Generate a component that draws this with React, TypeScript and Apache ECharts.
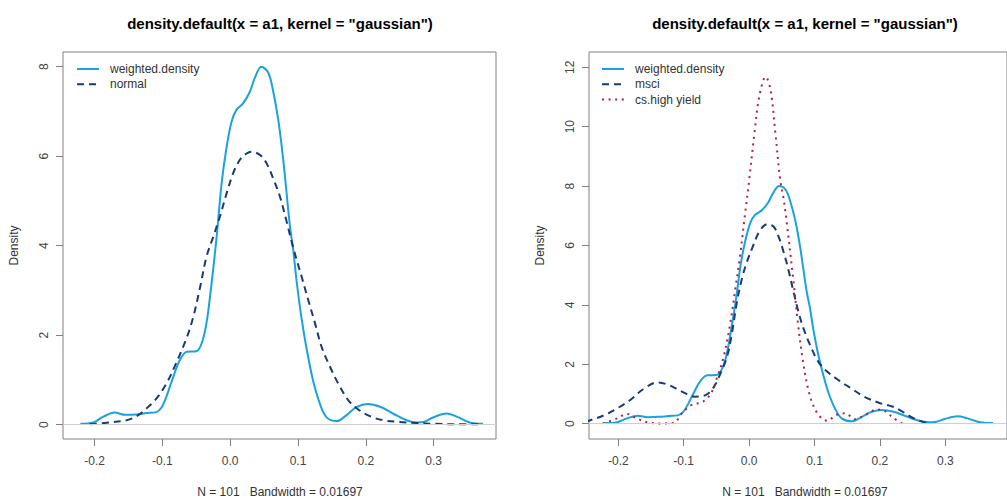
import { useRef, useEffect } from "react";
import * as echarts from "echarts";

// values (x = return, y = density)
const weightedDensity = [
  [-0.221, 0.02], [-0.202, 0.05], [-0.187, 0.18], [-0.17, 0.27], [-0.155, 0.22],
  [-0.138, 0.23], [-0.123, 0.26], [-0.109, 0.28], [-0.101, 0.39], [-0.094, 0.63],
  [-0.084, 1.07], [-0.074, 1.45], [-0.064, 1.63], [-0.05, 1.64], [-0.042, 1.82],
  [-0.035, 2.27], [-0.0275, 3.16], [-0.02, 4.2], [-0.0127, 5.39], [-0.0053, 6.21],
  [0.002, 6.77], [0.009, 7.03], [0.019, 7.18], [0.029, 7.44], [0.036, 7.74],
  [0.046, 8.0], [0.056, 7.87], [0.063, 7.48], [0.071, 6.8], [0.078, 5.95],
  [0.083, 5.2], [0.088, 4.45], [0.093, 3.9], [0.098, 3.2], [0.105, 2.4],
  [0.113, 1.67], [0.122, 1.0], [0.132, 0.48], [0.142, 0.17], [0.157, 0.08],
  [0.172, 0.22], [0.186, 0.39], [0.203, 0.46], [0.221, 0.4], [0.24, 0.25],
  [0.26, 0.1], [0.275, 0.05], [0.285, 0.06], [0.299, 0.16], [0.319, 0.25],
  [0.334, 0.18], [0.353, 0.05], [0.373, 0.02],
];

const normalDensity = [
  [-0.207, 0.01], [-0.177, 0.05], [-0.153, 0.1], [-0.138, 0.19], [-0.123, 0.37],
  [-0.1086, 0.59], [-0.094, 0.92], [-0.079, 1.4], [-0.064, 1.95], [-0.0546, 2.4],
  [-0.0447, 3.05], [-0.035, 3.75], [-0.025, 4.2], [-0.0152, 4.65], [-0.0053, 5.17],
  [0.0044, 5.62], [0.0143, 5.92], [0.0242, 6.06], [0.0316, 6.1], [0.0438, 6.03],
  [0.0537, 5.84], [0.0634, 5.5], [0.0733, 5.1], [0.083, 4.55], [0.093, 3.95],
  [0.1053, 3.31], [0.115, 2.79], [0.125, 2.27], [0.1348, 1.74], [0.147, 1.3],
  [0.1593, 0.92], [0.174, 0.55], [0.1888, 0.34], [0.206, 0.19], [0.2257, 0.1],
  [0.25, 0.06], [0.275, 0.04], [0.3, 0.02], [0.334, 0.01], [0.373, 0.01],
];

const msciDensity = [
  [-0.25, 0.07], [-0.245, 0.1], [-0.221, 0.29], [-0.2015, 0.52], [-0.1817, 0.8],
  [-0.162, 1.16], [-0.14, 1.39], [-0.1225, 1.3], [-0.1028, 1.08], [-0.0831, 0.91],
  [-0.0658, 0.97], [-0.0535, 1.25], [-0.0436, 1.7], [-0.0337, 2.26], [-0.0263, 3.04],
  [-0.019, 4.05], [-0.0115, 4.84], [-0.0041, 5.4], [0.0056, 5.96], [0.0155, 6.46],
  [0.0278, 6.72], [0.0377, 6.63], [0.0451, 6.3], [0.0525, 5.8], [0.0599, 5.2],
  [0.0673, 4.5], [0.0747, 3.83], [0.0821, 3.27], [0.092, 2.71], [0.1043, 2.14],
  [0.1166, 1.81], [0.1364, 1.47], [0.156, 1.19], [0.1757, 0.91], [0.2004, 0.69],
  [0.22, 0.57], [0.235, 0.4], [0.2497, 0.2], [0.2645, 0.07], [0.277, 0.01],
];

const csHighYieldDensity = [
  [-0.2237, 0.01], [-0.2015, 0.18], [-0.1867, 0.33], [-0.172, 0.18], [-0.152, 0.03],
  [-0.1324, 0.01], [-0.115, 0.03], [-0.1028, 0.35], [-0.088, 0.63], [-0.0707, 0.74],
  [-0.0584, 1.02], [-0.0485, 1.58], [-0.0388, 2.26], [-0.0288, 3.38], [-0.0214, 4.5],
  [-0.014, 5.62], [-0.0067, 6.97], [0.0007, 8.32], [0.0081, 9.78], [0.0155, 11.01],
  [0.0254, 11.68], [0.0328, 11.24], [0.0402, 9.78], [0.0476, 8.2], [0.0525, 7.6],
  [0.0574, 6.8], [0.0673, 4.9], [0.0747, 3.38], [0.0821, 2.14], [0.092, 1.02],
  [0.1043, 0.35], [0.119, 0.1], [0.134, 0.3], [0.147, 0.35], [0.162, 0.15],
  [0.178, 0.3], [0.196, 0.48], [0.208, 0.42], [0.22, 0.2], [0.234, 0.01],
];

const xTicks = [-0.2, -0.1, 0, 0.1, 0.2, 0.3];
const yTicksLeft = [0, 2, 4, 6, 8];
const yTicksRight = [0, 2, 4, 6, 8, 10, 12];

const mainTitle = 'density.default(x = a1, kernel = "gaussian")';
const subTitle = "N = 101   Bandwidth = 0.01697";
const legendLeft = ["weighted.density", "normal"];
const legendRight = ["weighted.density", "msci", "cs.high yield"];

const FONT = "'Liberation Sans', Arial, sans-serif";
const BLUE = "#1aa2e0";
const NAVY = "#173b78";
const RED = "#b0213e";
const BOX = "#808080";
const DASH = [7, 5];
const DOT = [2, 4.6];

const xAxis = (gridIndex: number, min: number, max: number) => ({
  type: "value",
  gridIndex,
  min,
  max,
  axisLine: { show: false, onZero: false },
  splitLine: { show: false },
  axisTick: {
    show: true,
    length: 7,
    customValues: xTicks,
    lineStyle: { color: BOX },
  },
  axisLabel: {
    customValues: xTicks,
    formatter: (v: number) => v.toFixed(1),
    margin: 16,
    color: "#444",
    fontSize: 12,
    fontFamily: FONT,
  },
});

const yAxis = (gridIndex: number, min: number, max: number, ticks: number[]) => ({
  type: "value",
  gridIndex,
  min,
  max,
  name: "Density",
  nameLocation: "middle",
  nameRotate: 90,
  nameGap: 43,
  nameTextStyle: { color: "#333", fontSize: 12, fontFamily: FONT },
  axisLine: { show: false, onZero: false },
  splitLine: { show: false },
  axisTick: {
    show: true,
    length: 7,
    customValues: ticks,
    lineStyle: { color: BOX },
  },
  axisLabel: {
    customValues: ticks,
    rotate: 90,
    margin: 13,
    color: "#444",
    fontSize: 12,
    fontFamily: FONT,
  },
});

const zeroLine = {
  silent: true,
  symbol: "none",
  label: { show: false },
  lineStyle: { color: "#cfcfcf", type: "solid", width: 1 },
  data: [{ yAxis: 0 }],
};

const curve = (
  name: string,
  data: number[][],
  idx: number,
  color: string,
  dash: string | number[],
  extra = {}
) => ({
  type: "line",
  name,
  data,
  xAxisIndex: idx,
  yAxisIndex: idx,
  showSymbol: false,
  symbol: "none",
  smooth: 0.35,
  silent: true,
  lineStyle: { color, width: 2, type: dash },
  itemStyle: { color },
  ...extra,
});

// hand-made legend in the top-left corner of a plot box
const legendGraphic = (x0: number, names: string[], colors: string[], dashes: (number[] | null)[]) => {
  const els: any[] = [];
  names.forEach((n, i) => {
    const y = 69 + i * 15.3;
    els.push({
      type: "line",
      shape: { x1: x0, y1: y, x2: x0 + 22, y2: y },
      style: { stroke: colors[i], lineWidth: 2, lineDash: dashes[i] || undefined },
      silent: true,
    });
    els.push({
      type: "text",
      x: x0 + 33,
      y,
      style: {
        text: n,
        fill: "#333",
        font: `12px ${FONT}`,
        verticalAlign: "middle",
        align: "left",
      },
      silent: true,
    });
  });
  return els;
};

const option = {
  animation: false,
  backgroundColor: "#fff",
  title: [
    { text: mainTitle, left: 280, top: 16, textAlign: "center", padding: 0,
      textStyle: { fontSize: 15, fontWeight: "bold", color: "#000", fontFamily: FONT } },
    { text: mainTitle, left: 805, top: 16, textAlign: "center", padding: 0,
      textStyle: { fontSize: 15, fontWeight: "bold", color: "#000", fontFamily: FONT } },
    { text: subTitle, left: 280, top: 486, textAlign: "center", padding: 0,
      textStyle: { fontSize: 12, fontWeight: "normal", color: "#333", fontFamily: FONT } },
    { text: subTitle, left: 805, top: 486, textAlign: "center", padding: 0,
      textStyle: { fontSize: 12, fontWeight: "normal", color: "#333", fontFamily: FONT } },
  ],
  grid: [
    { left: 63, top: 52, width: 433, height: 387, show: true, borderColor: BOX, borderWidth: 1, backgroundColor: "transparent" },
    { left: 589, top: 52, width: 432, height: 387, show: true, borderColor: BOX, borderWidth: 1, backgroundColor: "transparent" },
  ],
  xAxis: [xAxis(0, -0.2466, 0.392), xAxis(1, -0.2448, 0.3943)],
  yAxis: [yAxis(0, -0.32, 8.329, yTicksLeft), yAxis(1, -0.515, 12.515, yTicksRight)],
  series: [
    curve(legendLeft[0], weightedDensity, 0, BLUE, "solid", { markLine: zeroLine }),
    curve(legendLeft[1], normalDensity, 0, NAVY, DASH),
    curve(legendRight[0], weightedDensity, 1, BLUE, "solid", { markLine: zeroLine }),
    curve(legendRight[1], msciDensity, 1, NAVY, DASH),
    curve(legendRight[2], csHighYieldDensity, 1, RED, DOT),
  ],
  graphic: [
    ...legendGraphic(77, legendLeft, [BLUE, NAVY], [null, DASH]),
    ...legendGraphic(602, legendRight, [BLUE, NAVY, RED], [null, DASH, DOT]),
  ],
};

const App = () => {
  const chartRef = useRef<HTMLDivElement>(null);

  useEffect(() => {
    const chart = echarts.init(chartRef.current, null, { renderer: "svg" });
    chart.setOption(option as any);
    return () => {
      chart.dispose();
    };
  }, []);

  return (
    <div
      ref={chartRef}
      style={{ position: "absolute", left: 0, top: 0, width: "1007px", height: "499px" }}
    ></div>
  );
};

export default App;
